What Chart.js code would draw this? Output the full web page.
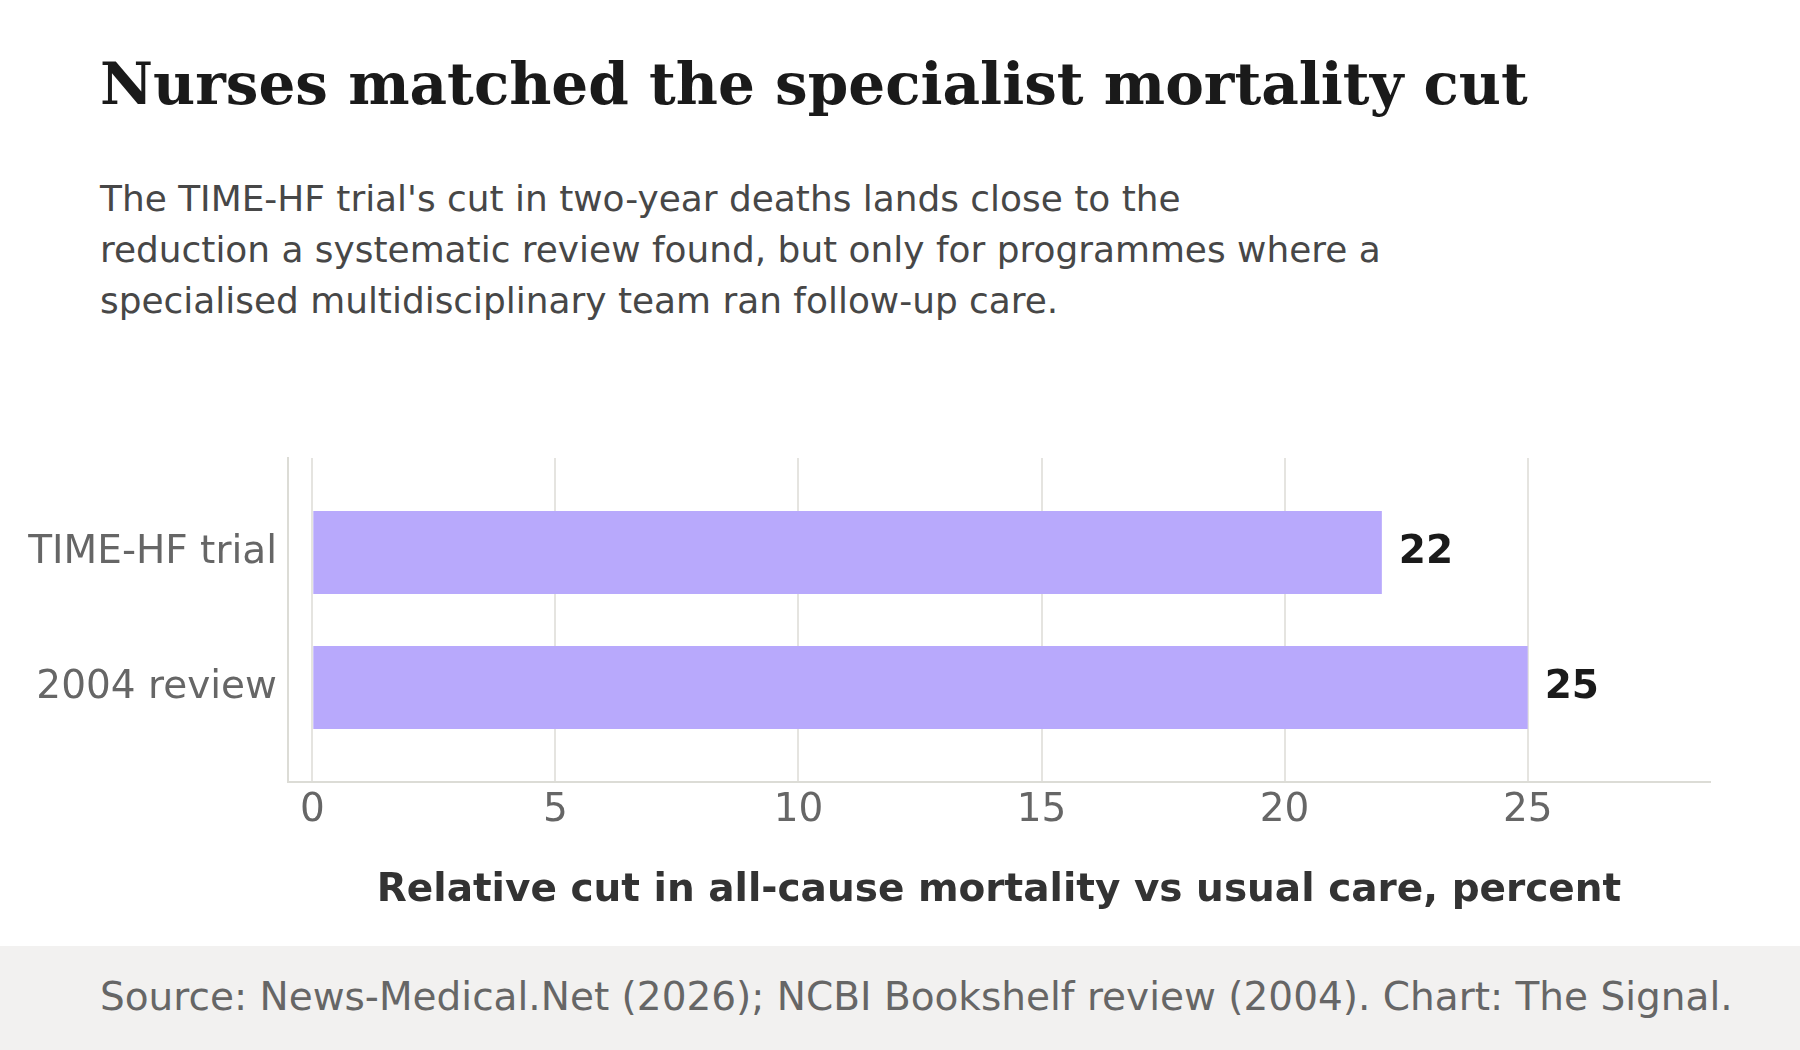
<!DOCTYPE html>
<html>
<head>
<meta charset="utf-8">
<script src="https://cdn.jsdelivr.net/npm/chart.js@4.4.1/dist/chart.umd.min.js"></script>
<style>
  html, body { margin: 0; padding: 0; background: #ffffff; }
  body { width: 1800px; height: 1050px; position: relative; overflow: hidden; font-family: "DejaVu Sans", sans-serif; }
  #title { position: absolute; left: 100px; top: 55px; font-family: "DejaVu Serif", serif; font-weight: bold; font-size: 58px; line-height: 58px; color: #1a1a1a; white-space: nowrap; }
  #subtitle { position: absolute; left: 100px; top: 173px; font-size: 35.9px; line-height: 51px; color: #474747; white-space: nowrap; }
  #footer { position: absolute; left: 0; top: 946px; width: 1800px; height: 104px; background: #f2f1f0; }
  #footer span { position: absolute; left: 100px; top: 1px; line-height: 100px; font-size: 39px; color: #666666; white-space: nowrap; }
  #wrap { position: absolute; left: 0; top: 440px; width: 1800px; height: 506px; }
</style>
</head>
<body>
<div id="title">Nurses matched the specialist mortality cut</div>
<div id="subtitle">The TIME-HF trial's cut in two-year deaths lands close to the<br>reduction a systematic review found, but only for programmes where a<br>specialised multidisciplinary team ran follow-up care.</div>
<div id="wrap"><canvas id="c"></canvas></div>
<div id="footer"><span>Source: News-Medical.Net (2026); NCBI Bookshelf review (2004). Chart: The Signal.</span></div>
<script>
const categories = ["TIME-HF trial", "2004 review"];
const values = [22, 25];
const xTicks = [0, 5, 10, 15, 20, 25];
const xTitle = "Relative cut in all-cause mortality vs usual care, percent";

const valueLabels = {
  id: 'valueLabels',
  afterDatasetsDraw(chart) {
    const ctx = chart.ctx;
    const meta = chart.getDatasetMeta(0);
    ctx.save();
    ctx.font = 'bold 39px "DejaVu Sans"';
    ctx.fillStyle = '#1a1a1a';
    ctx.textAlign = 'left';
    ctx.textBaseline = 'middle';
    meta.data.forEach((bar, i) => {
      ctx.fillText(String(values[i]), bar.x + 17, bar.y);
    });
    ctx.restore();
  }
};

new Chart(document.getElementById('c'), {
  type: 'bar',
  data: {
    datasets: [{
      data: values.map((v, i) => ({ x: v, y: i })),
      backgroundColor: '#b8a9fc',
      borderWidth: 0,
      barPercentage: 0.615,
      categoryPercentage: 1
    }]
  },
  options: {
    indexAxis: 'y',
    responsive: true,
    maintainAspectRatio: false,
    devicePixelRatio: 1,
    animation: false,
    layout: { padding: { left: 0, right: 90, top: 18, bottom: 0 } },
    plugins: { legend: { display: false }, tooltip: { enabled: false }, title: { display: false } },
    scales: {
      x: {
        type: 'linear',
        position: 'bottom',
        min: -0.5,
        max: 28.75,
        afterBuildTicks: (scale) => { scale.ticks = xTicks.map(v => ({ value: v })); },
        afterFit: (scale) => { scale.height = 164; scale.paddingLeft = 0; scale.paddingRight = 0; },
        grid: { color: '#e5e4e0', lineWidth: 2, drawTicks: false },
        border: { display: true, color: '#dcdcd6', width: 2 },
        ticks: { font: { family: 'DejaVu Sans', size: 39 }, color: '#666666', padding: 5 },
        title: { display: true, text: xTitle, font: { family: 'DejaVu Sans', size: 39, weight: 'bold' }, color: '#333333', padding: { top: 0, bottom: 32 } }
      },
      y: {
        type: 'linear',
        reverse: true,
        offset: false,
        min: -0.7,
        max: 1.7,
        afterBuildTicks: (scale) => { scale.ticks = categories.map((c, i) => ({ value: i })); },
        afterFit: (scale) => { scale.width = 288; scale.paddingTop = 0; scale.paddingBottom = 0; },
        grid: { display: false, drawTicks: false },
        border: { display: true, color: '#dcdcd6', width: 2 },
        ticks: { font: { family: 'DejaVu Sans', size: 39 }, color: '#666666', padding: 11, callback: (v) => categories[v] }
      }
    }
  },
  plugins: [valueLabels]
});
</script>
</body>
</html>
